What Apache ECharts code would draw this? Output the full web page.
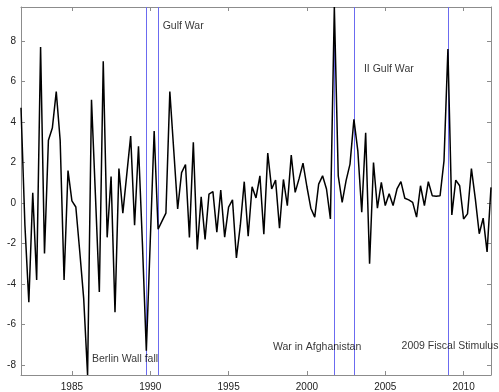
<!DOCTYPE html>
<html>
<head>
<meta charset="utf-8">
<script src="https://cdn.jsdelivr.net/npm/echarts@6/dist/echarts.min.js"></script>
<style>
  html, body { margin: 0; padding: 0; background: #fff; }
  #chart { width: 499px; height: 392px; }
</style>
</head>
<body>
<div id="chart"></div>
<script>
// Quarterly series, 1981Q4 .. 2011Q4
const startYear = 1981.75;
const values = [
  4.7, -1.1, -4.9, 0.5, -3.8, 7.7, -2.5, 3.1, 3.7, 5.5,
  3.1, -3.8, 1.6, 0.1, -0.2, -2.4, -4.7, -8.5, 5.1, 0.4,
  -4.4, 7.0, -1.7, 1.3, -5.4, 1.7, -0.5, 1.4, 3.3, -1.1,
  2.8, -2.0, -7.3, -1.9, 3.55, -1.3, -0.9, -0.5, 5.5, 2.6,
  -0.3, 1.5, 1.9, -1.7, 3.0, -2.3, 0.3, -1.8, 0.44, 0.56,
  -1.44, 0.64, -1.69, -0.21, 0.15, -2.72, -1.1, 1.05, -1.64, 0.8,
  0.25, 1.34, -1.54, 2.46, 0.69, 1.13, -1.25, 1.16, -0.13, 2.36,
  0.52, 1.2, 1.97, 0.8, -0.26, -0.7, 0.93, 1.34, 0.69, -0.79,
  9.68, 1.34, 0.03, 1.1, 1.92, 4.13, 2.57, -0.46, 3.47, -3.0,
  2.0, -0.26, 1.02, -0.13, 0.45, -0.13, 0.69, 1.05, 0.23, 0.15,
  0.03, -0.7, 0.85, -0.13, 1.05, 0.36, 0.33, 0.36, 2.08, 7.6,
  -0.59, 1.13, 0.85, -0.79, -0.54, 1.7, 0.2, -1.52, -0.75, -2.42,
  0.77
];

// Event markers
const eventDates = [1989.75, 1990.5, 2001.75, 2003.0, 2009.0];
const eventNames = ['Berlin Wall fall', 'Gulf War', 'War in Afghanistan', 'II Gulf War', '2009 Fiscal Stimulus'];
const eventLabelX = [1986.28, 1990.79, 1997.83, 2003.64, 2006.04];
const eventLabelY = [-7.71, 8.72, -7.13, 6.6, -7.06];

// Axis ticks
const xTicks = [1985, 1990, 1995, 2000, 2005, 2010];
const yTicks = [-8, -6, -4, -2, 0, 2, 4, 6, 8];

const seriesData = values.map((v, i) => [startYear + i / 4, v]);
const labelData = eventNames.map((n, i) => ({ name: n, value: [eventLabelX[i], eventLabelY[i]] }));

const axisGray = '#8c8c8c';
const font = 'Liberation Sans, Arial, sans-serif';

const xBase = {
  type: 'value', min: 1981.75, max: 2011.75,
  splitLine: { show: false },
  axisLine: { show: true, onZero: false, lineStyle: { color: axisGray, width: 1 } },
  axisTick: { show: true, inside: true, length: 4, customValues: xTicks, lineStyle: { color: axisGray } }
};
const yBase = {
  type: 'value', min: -8.5, max: 9.68,
  splitLine: { show: false },
  axisLine: { show: true, onZero: false, lineStyle: { color: axisGray, width: 1 } },
  axisTick: { show: true, inside: true, length: 4, customValues: yTicks, lineStyle: { color: axisGray } }
};

const chart = echarts.init(document.getElementById('chart'), null, { renderer: 'canvas' });
chart.setOption({
  animation: false,
  backgroundColor: '#fff',
  grid: { left: 21, top: 7, width: 470, height: 370, containLabel: false },
  xAxis: [
    Object.assign({}, xBase, {
      position: 'bottom',
      axisLabel: {
        show: true, customValues: xTicks, margin: 7, color: '#222', fontFamily: font, fontSize: 10,
        formatter: v => String(v)
      }
    }),
    Object.assign({}, xBase, { position: 'top', axisLabel: { show: false } })
  ],
  yAxis: [
    Object.assign({}, yBase, {
      position: 'left',
      axisLabel: {
        show: true, customValues: yTicks, margin: 5, color: '#222', fontFamily: font, fontSize: 10,
        formatter: v => String(v)
      }
    }),
    Object.assign({}, yBase, { position: 'right', axisLabel: { show: false } })
  ],
  series: [
    {
      type: 'line',
      data: seriesData,
      showSymbol: false,
      symbol: 'none',
      lineStyle: { color: '#000', width: 1.5 },
      clip: true,
      z: 3,
      markLine: {
        silent: true,
        symbol: 'none',
        label: { show: false },
        lineStyle: { color: '#6b6bf0', width: 1, type: 'solid' },
        data: eventDates.map(d => ({ xAxis: d })),
        z: 2
      }
    },
    {
      type: 'scatter',
      data: labelData,
      symbolSize: 0,
      silent: true,
      z: 4,
      label: {
        show: true,
        position: [0, 0],
        align: 'left',
        verticalAlign: 'middle',
        formatter: p => p.name,
        color: '#000',
        fontFamily: font,
        fontSize: 10.5
      }
    }
  ]
});
</script>
</body>
</html>
